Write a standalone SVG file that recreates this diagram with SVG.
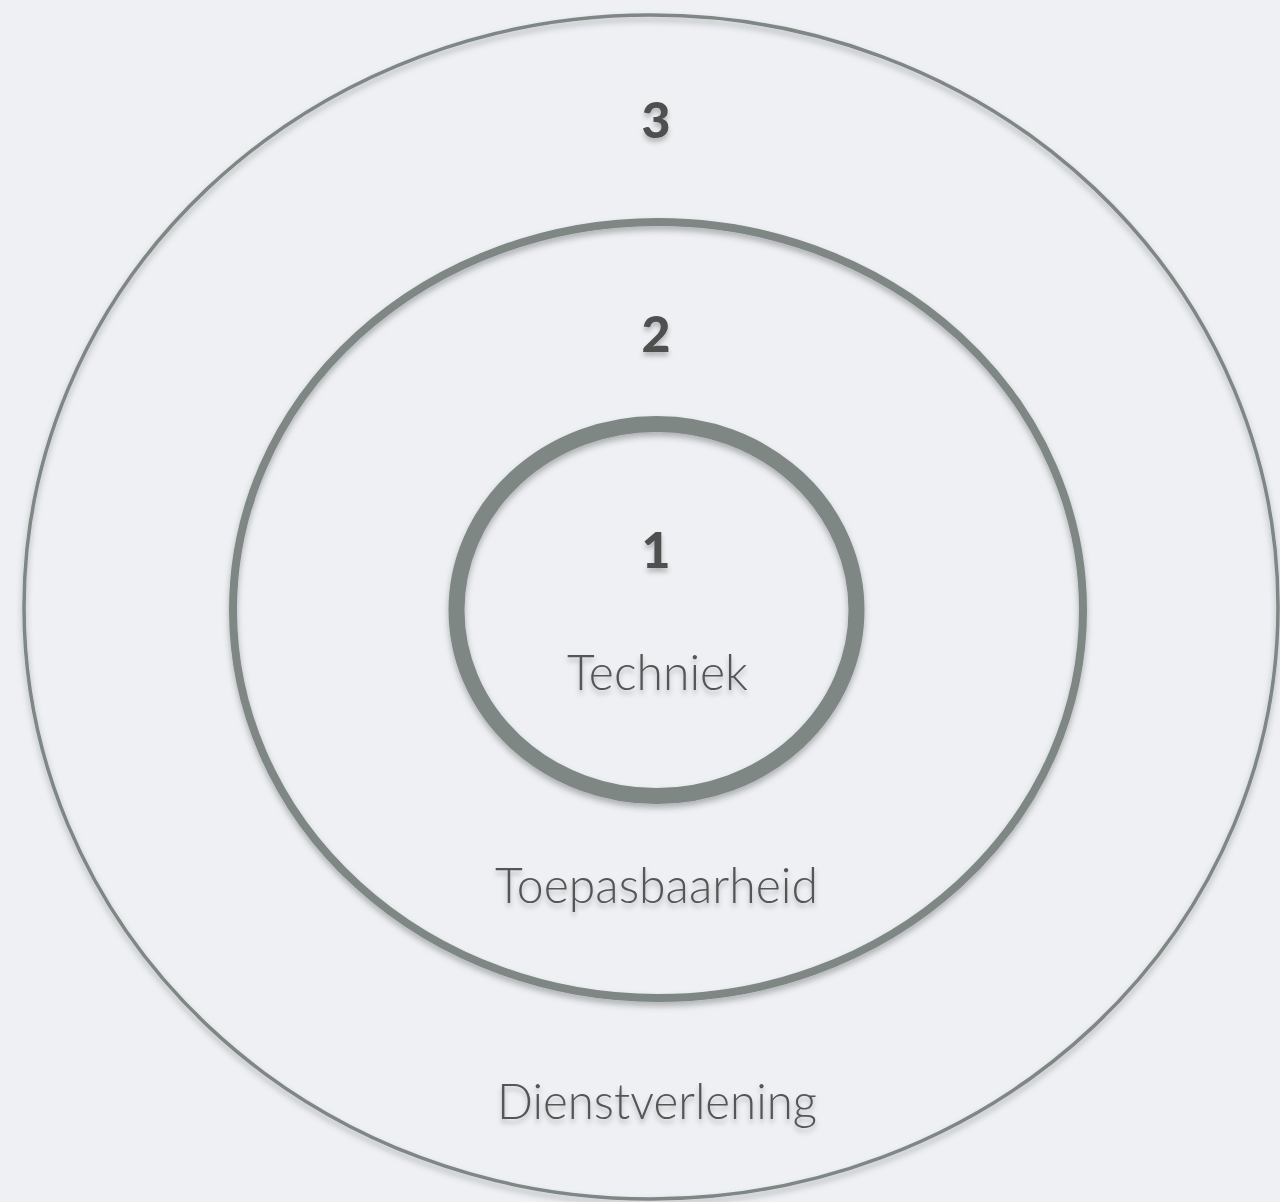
<svg xmlns="http://www.w3.org/2000/svg" width="1280" height="1202" viewBox="0 0 1280 1202">
  <defs>
    <filter id="shadow" x="-10%" y="-10%" width="120%" height="120%">
      <feDropShadow dx="0" dy="4" stdDeviation="3" flood-color="#000" flood-opacity="0.28"/>
    </filter>
    <filter id="tshadow" x="-10%" y="-20%" width="120%" height="160%">
      <feDropShadow dx="0" dy="4" stdDeviation="2.5" flood-color="#000" flood-opacity="0.25"/>
    </filter>
  </defs>
  <style>
    .ring { fill: none; stroke: #7f8784; filter: url(#shadow); }
    .num { font-family: "Lato", "Open Sans", sans-serif; font-weight: 900; font-size: 50px; fill: #4f4f4f; text-anchor: middle; filter: url(#tshadow); }
    .lbl { font-family: "Lato", "Open Sans", sans-serif; font-weight: 300; font-size: 50px; fill: #555555; text-anchor: middle; filter: url(#tshadow); }
  </style>
  <rect width="1280" height="1202" fill="#eef0f4"/>
  <g id="ring3">
    <ellipse class="ring" cx="651" cy="607" rx="627" ry="592" stroke-width="3.5"/>
    <text class="num" x="656" y="138">3</text>
    <text class="lbl" x="657" y="1119" textLength="320" lengthAdjust="spacingAndGlyphs">Dienstverlening</text>
  </g>
  <g id="ring2">
    <ellipse class="ring" cx="658" cy="610" rx="425" ry="388" stroke-width="8"/>
    <text class="num" x="656" y="352">2</text>
    <text class="lbl" x="656.5" y="903" textLength="323" lengthAdjust="spacingAndGlyphs">Toepasbaarheid</text>
  </g>
  <g id="ring1">
    <ellipse class="ring" cx="656.5" cy="610" rx="200" ry="186" stroke-width="16"/>
    <text class="num" x="656" y="568">1</text>
    <text class="lbl" x="657.5" y="690" textLength="181" lengthAdjust="spacingAndGlyphs">Techniek</text>
  </g>
  <g id="connectors"/>
</svg>
